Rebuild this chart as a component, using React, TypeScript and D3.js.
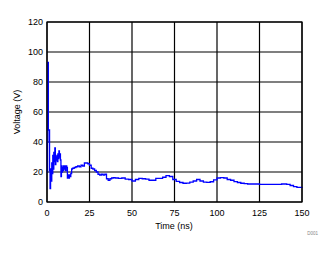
import React from "react";
import * as d3 from "d3";

const timeNs: number[] = [
  0, 0.3, 0.5, 0.8, 1.2, 1.5, 1.8, 2.1, 2.4, 2.8, 3.1, 3.4, 3.7, 4.0, 4.3, 4.6, 4.9, 5.2, 5.5, 5.8,
  6.1, 6.4, 6.7, 7.0, 7.3, 7.6, 7.9, 8.2, 8.5, 8.8, 9.1, 9.4, 9.7, 10.0, 10.4, 10.8, 11.2, 11.6,
  12.0, 12.4, 12.8, 13.2, 13.6, 14.0, 14.5, 15, 16, 17, 18, 19, 20, 21, 22, 23, 24, 25, 26, 27,
  28, 29, 30, 31, 32, 33, 34, 35, 36, 37, 38, 39, 40, 42, 44, 46, 48, 50, 52, 54, 56, 58, 60, 62,
  64, 66, 68, 70, 72, 74, 76, 78, 80, 82, 84, 86, 88, 90, 92, 94, 96, 98, 100, 102, 104, 106, 108,
  110, 112, 114, 116, 118, 120, 125, 130, 135, 138, 141, 143, 145, 147, 150,
];
const voltage: number[] = [
  20, 40, 93, 48, 48, 21, 9, 22, 14, 26, 19, 31, 22, 33, 27, 36, 25, 30, 28, 31,
  27, 32, 29, 34, 30, 32, 28, 17, 24, 20, 23, 21, 24, 22, 24, 21, 24, 23,
  16, 18, 16, 18, 17, 19, 22, 22.5, 23, 23.5, 24, 23.5, 24.5, 24, 26, 26, 25.5, 24.5, 22.5, 22,
  21, 20, 18.5, 18, 18.5, 18, 18.5, 15.5, 14.5, 15.5, 16, 16.3, 16, 15.8, 16, 15.2, 15, 14, 15, 15.8, 15.5, 15.3, 14.5, 14.5,
  15.8, 15.8, 16.5, 17.6, 17, 15, 13.8, 13, 12.5, 12.6, 13.2, 14, 15, 14, 13.3, 13.1, 13.5, 14.8, 16, 16.3, 16, 15, 14.5,
  13.6, 13, 12.5, 12.2, 12, 12, 11.8, 11.8, 11.8, 12, 11.8, 11, 10.2, 9.8, 9.4,
];
const xTicks: number[] = [0, 25, 50, 75, 100, 125, 150];
const yTicks: number[] = [0, 20, 40, 60, 80, 100, 120];

export default function App() {
  const W = 333, H = 254;
  const left = 47, right = 302, top = 22, bottom = 202;
  const x = d3.scaleLinear().domain([0, 150]).range([left, right]);
  const y = d3.scaleLinear().domain([0, 120]).range([bottom, top]);
  const pts: [number, number][] = timeNs.map((t, i) => [t, voltage[i]]);
  const line = d3.line<[number, number]>().x(d => x(d[0])).y(d => y(d[1])).curve(d3.curveStepAfter);
  const font = "'Liberation Sans', Arial, sans-serif";
  return (
    <svg width={W} height={H} style={{ position: "absolute", left: 0, top: 0 }} fontFamily={font}>
      <rect x={0} y={0} width={W} height={H} fill="#fff" />
      {xTicks.map(t => (
        <line key={"gx" + t} x1={x(t)} x2={x(t)} y1={top} y2={bottom} stroke="#000" strokeWidth={1.2} />
      ))}
      {yTicks.map(t => (
        <line key={"gy" + t} x1={left} x2={right} y1={y(t)} y2={y(t)} stroke="#000" strokeWidth={1.2} />
      ))}
      <path d={line(pts) || ""} fill="none" stroke="#0000ff" strokeWidth={1.3} />
      <rect x={left} y={top} width={right - left} height={bottom - top} fill="none" stroke="#000" strokeWidth={1.2} />
      {xTicks.map(t => (
        <text key={"tx" + t} x={x(t)} y={215.5} fontSize={9} textAnchor="middle" fill="#000">{t}</text>
      ))}
      {yTicks.map(t => (
        <text key={"ty" + t} x={43} y={y(t) + 3.3} fontSize={9} textAnchor="end" fill="#000">{t}</text>
      ))}
      <text x={174} y={229} fontSize={9} textAnchor="middle" fill="#000">Time (ns)</text>
      <text transform={`translate(20,112) rotate(-90)`} fontSize={9} textAnchor="middle" fill="#000">Voltage (V)</text>
      <text x={318} y={235} fontSize={4.5} textAnchor="end" fill="#888">D001</text>
    </svg>
  );
}
